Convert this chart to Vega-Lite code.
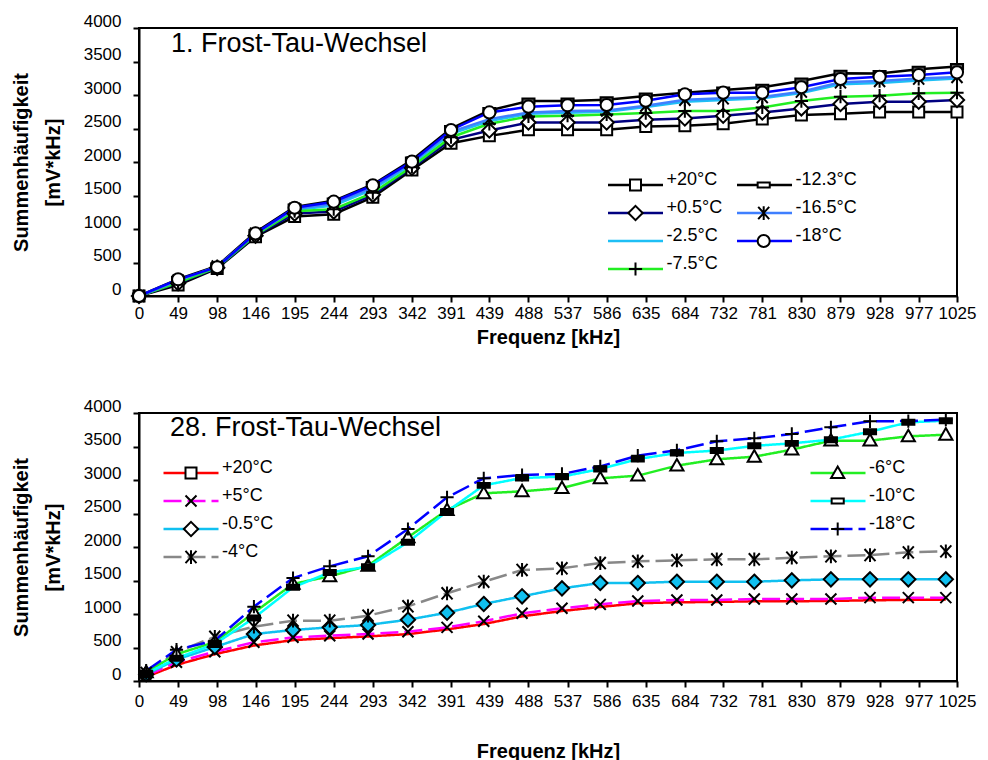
{
  "$schema": "https://vega.github.io/schema/vega-lite/v6.json",
  "padding": {"left": 10, "top": 11, "right": 5, "bottom": 0},
  "background": "white",
  "spacing": 48,
  "resolve": {"scale": {"color": "independent", "shape": "independent", "strokeDash": "independent", "x": "independent", "y": "independent"}, "legend": {"color": "independent", "shape": "independent", "strokeDash": "independent"}},
  "config": {
    "font": "Liberation Sans",
    "view": {"stroke": "black", "strokeWidth": 2},
    "axis": {
      "domainColor": "black", "domainWidth": 2, "tickColor": "black", "tickWidth": 2, "tickSize": 6,
      "labelColor": "black", "labelFont": "Liberation Sans", "labelFontSize": 17, "labelFlush": false, "labelOverlap": false,
      "grid": false, "titleFont": "Liberation Sans", "titleFontWeight": "bold", "titleFontSize": 20, "titleColor": "black"
    },
    "legend": {"labelFont": "Liberation Sans", "labelColor": "black", "labelFontSize": 18, "labelBaseline": "alphabetic", "padding": 0, "clipHeight": 26, "rowPadding": 1},
    "title": {"font": "Liberation Sans", "fontSize": 27, "fontWeight": "normal", "color": "black", "anchor": "start", "frame": "group", "baseline": "middle"}
  },
  "datasets": {
    "top": [
      {"f":0,"s":"+20°C","v":0},{"f":49,"s":"+20°C","v":165},{"f":98,"s":"+20°C","v":410},{"f":146,"s":"+20°C","v":885},{"f":195,"s":"+20°C","v":1185},{"f":244,"s":"+20°C","v":1220},{"f":293,"s":"+20°C","v":1475},{"f":342,"s":"+20°C","v":1880},{"f":391,"s":"+20°C","v":2280},{"f":439,"s":"+20°C","v":2390},{"f":488,"s":"+20°C","v":2480},{"f":537,"s":"+20°C","v":2480},{"f":586,"s":"+20°C","v":2480},{"f":635,"s":"+20°C","v":2530},{"f":684,"s":"+20°C","v":2540},{"f":732,"s":"+20°C","v":2570},{"f":781,"s":"+20°C","v":2640},{"f":830,"s":"+20°C","v":2700},{"f":879,"s":"+20°C","v":2720},{"f":928,"s":"+20°C","v":2745},{"f":977,"s":"+20°C","v":2745},{"f":1025,"s":"+20°C","v":2745},
      {"f":0,"s":"+0.5°C","v":0},{"f":49,"s":"+0.5°C","v":190},{"f":98,"s":"+0.5°C","v":420},{"f":146,"s":"+0.5°C","v":900},{"f":195,"s":"+0.5°C","v":1230},{"f":244,"s":"+0.5°C","v":1260},{"f":293,"s":"+0.5°C","v":1510},{"f":342,"s":"+0.5°C","v":1910},{"f":391,"s":"+0.5°C","v":2330},{"f":439,"s":"+0.5°C","v":2470},{"f":488,"s":"+0.5°C","v":2590},{"f":537,"s":"+0.5°C","v":2590},{"f":586,"s":"+0.5°C","v":2590},{"f":635,"s":"+0.5°C","v":2630},{"f":684,"s":"+0.5°C","v":2650},{"f":732,"s":"+0.5°C","v":2690},{"f":781,"s":"+0.5°C","v":2740},{"f":830,"s":"+0.5°C","v":2800},{"f":879,"s":"+0.5°C","v":2865},{"f":928,"s":"+0.5°C","v":2900},{"f":977,"s":"+0.5°C","v":2900},{"f":1025,"s":"+0.5°C","v":2925},
      {"f":0,"s":"-2.5°C","v":0},{"f":49,"s":"-2.5°C","v":215},{"f":98,"s":"-2.5°C","v":430},{"f":146,"s":"-2.5°C","v":920},{"f":195,"s":"-2.5°C","v":1285},{"f":244,"s":"-2.5°C","v":1350},{"f":293,"s":"-2.5°C","v":1590},{"f":342,"s":"-2.5°C","v":1965},{"f":391,"s":"-2.5°C","v":2420},{"f":439,"s":"-2.5°C","v":2610},{"f":488,"s":"-2.5°C","v":2720},{"f":537,"s":"-2.5°C","v":2735},{"f":586,"s":"-2.5°C","v":2750},{"f":635,"s":"-2.5°C","v":2820},{"f":684,"s":"-2.5°C","v":2900},{"f":732,"s":"-2.5°C","v":2925},{"f":781,"s":"-2.5°C","v":2950},{"f":830,"s":"-2.5°C","v":3030},{"f":879,"s":"-2.5°C","v":3160},{"f":928,"s":"-2.5°C","v":3180},{"f":977,"s":"-2.5°C","v":3215},{"f":1025,"s":"-2.5°C","v":3245},
      {"f":0,"s":"-7.5°C","v":0},{"f":49,"s":"-7.5°C","v":200},{"f":98,"s":"-7.5°C","v":425},{"f":146,"s":"-7.5°C","v":910},{"f":195,"s":"-7.5°C","v":1265},{"f":244,"s":"-7.5°C","v":1295},{"f":293,"s":"-7.5°C","v":1540},{"f":342,"s":"-7.5°C","v":1930},{"f":391,"s":"-7.5°C","v":2370},{"f":439,"s":"-7.5°C","v":2570},{"f":488,"s":"-7.5°C","v":2680},{"f":537,"s":"-7.5°C","v":2690},{"f":586,"s":"-7.5°C","v":2710},{"f":635,"s":"-7.5°C","v":2730},{"f":684,"s":"-7.5°C","v":2760},{"f":732,"s":"-7.5°C","v":2760},{"f":781,"s":"-7.5°C","v":2815},{"f":830,"s":"-7.5°C","v":2910},{"f":879,"s":"-7.5°C","v":2975},{"f":928,"s":"-7.5°C","v":2990},{"f":977,"s":"-7.5°C","v":3025},{"f":1025,"s":"-7.5°C","v":3035},
      {"f":0,"s":"-12.3°C","v":0},{"f":49,"s":"-12.3°C","v":250},{"f":98,"s":"-12.3°C","v":450},{"f":146,"s":"-12.3°C","v":950},{"f":195,"s":"-12.3°C","v":1330},{"f":244,"s":"-12.3°C","v":1420},{"f":293,"s":"-12.3°C","v":1665},{"f":342,"s":"-12.3°C","v":2030},{"f":391,"s":"-12.3°C","v":2500},{"f":439,"s":"-12.3°C","v":2770},{"f":488,"s":"-12.3°C","v":2910},{"f":537,"s":"-12.3°C","v":2910},{"f":586,"s":"-12.3°C","v":2930},{"f":635,"s":"-12.3°C","v":2985},{"f":684,"s":"-12.3°C","v":3035},{"f":732,"s":"-12.3°C","v":3075},{"f":781,"s":"-12.3°C","v":3115},{"f":830,"s":"-12.3°C","v":3210},{"f":879,"s":"-12.3°C","v":3325},{"f":928,"s":"-12.3°C","v":3320},{"f":977,"s":"-12.3°C","v":3385},{"f":1025,"s":"-12.3°C","v":3425},
      {"f":0,"s":"-16.5°C","v":0},{"f":49,"s":"-16.5°C","v":230},{"f":98,"s":"-16.5°C","v":440},{"f":146,"s":"-16.5°C","v":930},{"f":195,"s":"-16.5°C","v":1300},{"f":244,"s":"-16.5°C","v":1380},{"f":293,"s":"-16.5°C","v":1620},{"f":342,"s":"-16.5°C","v":1990},{"f":391,"s":"-16.5°C","v":2450},{"f":439,"s":"-16.5°C","v":2640},{"f":488,"s":"-16.5°C","v":2740},{"f":537,"s":"-16.5°C","v":2760},{"f":586,"s":"-16.5°C","v":2770},{"f":635,"s":"-16.5°C","v":2840},{"f":684,"s":"-16.5°C","v":2930},{"f":732,"s":"-16.5°C","v":2950},{"f":781,"s":"-16.5°C","v":2970},{"f":830,"s":"-16.5°C","v":3050},{"f":879,"s":"-16.5°C","v":3190},{"f":928,"s":"-16.5°C","v":3210},{"f":977,"s":"-16.5°C","v":3245},{"f":1025,"s":"-16.5°C","v":3270},
      {"f":0,"s":"-18°C","v":0},{"f":49,"s":"-18°C","v":249},{"f":98,"s":"-18°C","v":430},{"f":146,"s":"-18°C","v":935},{"f":195,"s":"-18°C","v":1318},{"f":244,"s":"-18°C","v":1408},{"f":293,"s":"-18°C","v":1652},{"f":342,"s":"-18°C","v":2005},{"f":391,"s":"-18°C","v":2478},{"f":439,"s":"-18°C","v":2740},{"f":488,"s":"-18°C","v":2826},{"f":537,"s":"-18°C","v":2846},{"f":586,"s":"-18°C","v":2851},{"f":635,"s":"-18°C","v":2915},{"f":684,"s":"-18°C","v":3010},{"f":732,"s":"-18°C","v":3035},{"f":781,"s":"-18°C","v":3035},{"f":830,"s":"-18°C","v":3115},{"f":879,"s":"-18°C","v":3239},{"f":928,"s":"-18°C","v":3273},{"f":977,"s":"-18°C","v":3298},{"f":1025,"s":"-18°C","v":3338}
    ],
    "bottom": [
      {"f":9,"s":"+20°C","v":60},{"f":47,"s":"+20°C","v":240},{"f":95,"s":"+20°C","v":400},{"f":144,"s":"+20°C","v":530},{"f":193,"s":"+20°C","v":610},{"f":239,"s":"+20°C","v":640},{"f":287,"s":"+20°C","v":665},{"f":337,"s":"+20°C","v":700},{"f":386,"s":"+20°C","v":770},{"f":432,"s":"+20°C","v":850},{"f":480,"s":"+20°C","v":965},{"f":530,"s":"+20°C","v":1045},{"f":578,"s":"+20°C","v":1105},{"f":625,"s":"+20°C","v":1160},{"f":674,"s":"+20°C","v":1175},{"f":724,"s":"+20°C","v":1180},{"f":771,"s":"+20°C","v":1190},{"f":818,"s":"+20°C","v":1190},{"f":867,"s":"+20°C","v":1195},{"f":916,"s":"+20°C","v":1205},{"f":964,"s":"+20°C","v":1210},{"f":1011,"s":"+20°C","v":1215},
      {"f":9,"s":"+5°C","v":80},{"f":47,"s":"+5°C","v":280},{"f":95,"s":"+5°C","v":437},{"f":144,"s":"+5°C","v":578},{"f":193,"s":"+5°C","v":652},{"f":239,"s":"+5°C","v":676},{"f":287,"s":"+5°C","v":701},{"f":337,"s":"+5°C","v":736},{"f":386,"s":"+5°C","v":801},{"f":432,"s":"+5°C","v":891},{"f":480,"s":"+5°C","v":1010},{"f":530,"s":"+5°C","v":1085},{"f":578,"s":"+5°C","v":1144},{"f":625,"s":"+5°C","v":1194},{"f":674,"s":"+5°C","v":1209},{"f":724,"s":"+5°C","v":1209},{"f":771,"s":"+5°C","v":1224},{"f":818,"s":"+5°C","v":1224},{"f":867,"s":"+5°C","v":1224},{"f":916,"s":"+5°C","v":1244},{"f":964,"s":"+5°C","v":1244},{"f":1011,"s":"+5°C","v":1244},
      {"f":9,"s":"-0.5°C","v":100},{"f":47,"s":"-0.5°C","v":320},{"f":95,"s":"-0.5°C","v":507},{"f":144,"s":"-0.5°C","v":701},{"f":193,"s":"-0.5°C","v":761},{"f":239,"s":"-0.5°C","v":801},{"f":287,"s":"-0.5°C","v":836},{"f":337,"s":"-0.5°C","v":915},{"f":386,"s":"-0.5°C","v":1019},{"f":432,"s":"-0.5°C","v":1150},{"f":480,"s":"-0.5°C","v":1264},{"f":530,"s":"-0.5°C","v":1383},{"f":578,"s":"-0.5°C","v":1463},{"f":625,"s":"-0.5°C","v":1463},{"f":674,"s":"-0.5°C","v":1482},{"f":724,"s":"-0.5°C","v":1482},{"f":771,"s":"-0.5°C","v":1482},{"f":818,"s":"-0.5°C","v":1502},{"f":867,"s":"-0.5°C","v":1517},{"f":916,"s":"-0.5°C","v":1517},{"f":964,"s":"-0.5°C","v":1517},{"f":1011,"s":"-0.5°C","v":1517},
      {"f":9,"s":"-4°C","v":120},{"f":47,"s":"-4°C","v":430},{"f":95,"s":"-4°C","v":660},{"f":144,"s":"-4°C","v":811},{"f":193,"s":"-4°C","v":900},{"f":239,"s":"-4°C","v":900},{"f":287,"s":"-4°C","v":975},{"f":337,"s":"-4°C","v":1115},{"f":386,"s":"-4°C","v":1309},{"f":432,"s":"-4°C","v":1482},{"f":480,"s":"-4°C","v":1657},{"f":530,"s":"-4°C","v":1682},{"f":578,"s":"-4°C","v":1761},{"f":625,"s":"-4°C","v":1786},{"f":674,"s":"-4°C","v":1801},{"f":724,"s":"-4°C","v":1816},{"f":771,"s":"-4°C","v":1816},{"f":818,"s":"-4°C","v":1841},{"f":867,"s":"-4°C","v":1861},{"f":916,"s":"-4°C","v":1880},{"f":964,"s":"-4°C","v":1920},{"f":1011,"s":"-4°C","v":1935},
      {"f":9,"s":"-6°C","v":130},{"f":47,"s":"-6°C","v":400},{"f":95,"s":"-6°C","v":580},{"f":144,"s":"-6°C","v":1020},{"f":193,"s":"-6°C","v":1450},{"f":239,"s":"-6°C","v":1562},{"f":287,"s":"-6°C","v":1721},{"f":337,"s":"-6°C","v":2145},{"f":386,"s":"-6°C","v":2552},{"f":432,"s":"-6°C","v":2801},{"f":480,"s":"-6°C","v":2831},{"f":530,"s":"-6°C","v":2880},{"f":578,"s":"-6°C","v":3025},{"f":625,"s":"-6°C","v":3065},{"f":674,"s":"-6°C","v":3214},{"f":724,"s":"-6°C","v":3309},{"f":771,"s":"-6°C","v":3348},{"f":818,"s":"-6°C","v":3453},{"f":867,"s":"-6°C","v":3587},{"f":916,"s":"-6°C","v":3587},{"f":964,"s":"-6°C","v":3652},{"f":1011,"s":"-6°C","v":3676},
      {"f":9,"s":"-10°C","v":110},{"f":47,"s":"-10°C","v":340},{"f":95,"s":"-10°C","v":552},{"f":144,"s":"-10°C","v":940},{"f":193,"s":"-10°C","v":1398},{"f":239,"s":"-10°C","v":1620},{"f":287,"s":"-10°C","v":1706},{"f":337,"s":"-10°C","v":2070},{"f":386,"s":"-10°C","v":2532},{"f":432,"s":"-10°C","v":2920},{"f":480,"s":"-10°C","v":3030},{"f":530,"s":"-10°C","v":3050},{"f":578,"s":"-10°C","v":3164},{"f":625,"s":"-10°C","v":3313},{"f":674,"s":"-10°C","v":3403},{"f":724,"s":"-10°C","v":3440},{"f":771,"s":"-10°C","v":3510},{"f":818,"s":"-10°C","v":3547},{"f":867,"s":"-10°C","v":3602},{"f":916,"s":"-10°C","v":3721},{"f":964,"s":"-10°C","v":3861},{"f":1011,"s":"-10°C","v":3885},
      {"f":9,"s":"-18°C","v":154},{"f":47,"s":"-18°C","v":467},{"f":95,"s":"-18°C","v":602},{"f":144,"s":"-18°C","v":1109},{"f":193,"s":"-18°C","v":1537},{"f":239,"s":"-18°C","v":1711},{"f":287,"s":"-18°C","v":1861},{"f":337,"s":"-18°C","v":2269},{"f":386,"s":"-18°C","v":2741},{"f":432,"s":"-18°C","v":3025},{"f":480,"s":"-18°C","v":3075},{"f":530,"s":"-18°C","v":3090},{"f":578,"s":"-18°C","v":3204},{"f":625,"s":"-18°C","v":3363},{"f":674,"s":"-18°C","v":3443},{"f":724,"s":"-18°C","v":3577},{"f":771,"s":"-18°C","v":3622},{"f":818,"s":"-18°C","v":3687},{"f":867,"s":"-18°C","v":3786},{"f":916,"s":"-18°C","v":3876},{"f":964,"s":"-18°C","v":3880},{"f":1011,"s":"-18°C","v":3900}
    ]
  },
  "vconcat": [
    {
      "width": 818, "height": 268,
      "title": {"text": "1. Frost-Tau-Wechsel", "offset": -46, "dx": 32},
      "data": {"name": "top"},
      "encoding": {
        "x": {"field": "f", "type": "quantitative", "scale": {"domain": [0, 1025], "nice": false, "zero": false},
          "axis": {"values": [0,49,98,146,195,244,293,342,391,439,488,537,586,635,684,732,781,830,879,928,977,1025], "format": "d", "title": "Frequenz [kHz]", "titlePadding": 6, "labelPadding": 3}},
        "y": {"field": "v", "type": "quantitative", "scale": {"domain": [0, 4000], "nice": false},
          "axis": {"values": [0,500,1000,1500,2000,2500,3000,3500,4000], "format": "d", "title": ["Summenhäufigkeit", "[mV*kHz]"], "titleLineHeight": 32, "titlePadding": 20, "labelPadding": 12, "labelOffset": -7}}
      },
      "layer": [
        {
          "mark": {"type": "line", "strokeWidth": 2.5},
          "encoding": {
            "color": {"field": "s", "type": "nominal",
              "scale": {"domain": ["+20°C","+0.5°C","-2.5°C","-7.5°C","-12.3°C","-16.5°C","-18°C"], "range": ["#000000","#000080","#1EBFF5","#22EE22","#000000","#3F7FFF","#0000FF"]},
              "legend": {"title": null, "orient": "none", "legendX": 466, "legendY": 144, "columns": 2, "symbolType": "M-1.09,0H8.91", "symbolSize": 121, "symbolStrokeWidth": 2.5, "labelOffset": 43.5, "columnPadding": 11}}
          }
        },
        {
          "mark": {"type": "point", "size": 121, "strokeWidth": 2, "opacity": 1},
          "encoding": {
            "shape": {"field": "s", "type": "nominal", "sort": ["+20°C","+0.5°C","-2.5°C","-7.5°C","-12.3°C","-16.5°C","-18°C"],
              "scale": {"range": ["M-1,-1H1V1H-1Z", "M0,-1.3L1.3,0L0,1.3L-1.3,0Z", "M0,0", "M-1.2,0H1.2M0,-1.2V1.2", "M-1.1,-0.45H1.1V0.45H-1.1Z", "M-1,-1.1L1,1.1M-1,1.1L1,-1.1M0,-1.25V1.25", "M-1.1,0A1.1,1.1 0 1,0 1.1,0A1.1,1.1 0 1,0 -1.1,0Z"]},
              "legend": {"title": null, "orient": "none", "legendX": 466, "legendY": 144, "columns": 2, "symbolSize": 121, "symbolStrokeWidth": 2, "symbolOffset": 21.5, "labelExpr": "''", "labelOpacity": 0, "labelOffset": 43.5, "columnPadding": 45.2,
                "encode": {"symbols": {"update": {"stroke": {"value": "black"}, "fill": {"signal": "datum.value === '-12.3°C' ? '#555555' : 'white'"}, "opacity": {"value": 1}}}}}},
            "stroke": {"value": "black"},
            "fill": {"condition": {"test": "datum.s === '-12.3°C'", "value": "#555555"}, "value": "white"}
          }
        }
      ]
    },
    {
      "width": 818, "height": 268,
      "title": {"text": "28. Frost-Tau-Wechsel", "offset": -45, "dx": 31},
      "data": {"name": "bottom"},
      "encoding": {
        "x": {"field": "f", "type": "quantitative", "scale": {"domain": [0, 1025], "nice": false, "zero": false},
          "axis": {"values": [0,49,98,146,195,244,293,342,391,439,488,537,586,635,684,732,781,830,879,928,977,1025], "format": "d", "title": "Frequenz [kHz]", "titlePadding": 32, "labelPadding": 6}},
        "y": {"field": "v", "type": "quantitative", "scale": {"domain": [0, 4000], "nice": false},
          "axis": {"values": [0,500,1000,1500,2000,2500,3000,3500,4000], "format": "d", "title": ["Summenhäufigkeit", "[mV*kHz]"], "titleLineHeight": 32, "titlePadding": 20, "labelPadding": 12, "labelOffset": -7}}
      },
      "layer": [
        {
          "mark": {"type": "line", "strokeWidth": 2.5},
          "encoding": {
            "color": {"field": "s", "type": "nominal",
              "scale": {"domain": ["+20°C","+5°C","-0.5°C","-4°C","-6°C","-10°C","-18°C"], "range": ["#FF0000","#FF00FF","#10C0F0","#888888","#22EE22","#00FFFF","#0000FF"]},
              "legend": {"title": null, "orient": "none", "legendX": 21.5, "legendY": 47, "columns": 2, "symbolType": "M-1.09,0H8.91", "symbolSize": 121, "symbolStrokeWidth": 2.5, "labelOffset": 43.5, "columnPadding": 534}},
            "strokeDash": {"field": "s", "type": "nominal",
              "scale": {"domain": ["+20°C","+5°C","-0.5°C","-4°C","-6°C","-10°C","-18°C"], "range": [[1,0],[18,6],[1,0],[18,6],[1,0],[1,0],[18,6]]},
              "legend": {"title": null, "orient": "none", "legendX": 21.5, "legendY": 47, "columns": 2, "symbolType": "M-1.09,0H8.91", "symbolSize": 121, "symbolStrokeWidth": 2.5, "labelOffset": 43.5, "columnPadding": 534}}
          }
        },
        {
          "mark": {"type": "point", "size": 121, "strokeWidth": 2, "opacity": 1},
          "encoding": {
            "shape": {"field": "s", "type": "nominal", "sort": ["+20°C","+5°C","-0.5°C","-4°C","-6°C","-10°C","-18°C"],
              "scale": {"range": ["M-1,-1H1V1H-1Z", "M-1,-1L1,1M-1,1L1,-1", "M0,-1.3L1.3,0L0,1.3L-1.3,0Z", "M-1,-1.1L1,1.1M-1,1.1L1,-1.1M0,-1.25V1.25", "M0,-1.2L1.2,0.9H-1.2Z", "M-1.1,-0.45H1.1V0.45H-1.1Z", "M-1.2,0H1.2M0,-1.2V1.2"]},
              "legend": {"title": null, "orient": "none", "legendX": 21.5, "legendY": 47, "columns": 2, "symbolSize": 121, "symbolStrokeWidth": 2, "symbolOffset": 21.5, "labelExpr": "''", "labelOpacity": 0, "labelOffset": 43.5, "columnPadding": 563.7,
                "encode": {"symbols": {"update": {"stroke": {"value": "black"}, "fill": {"signal": "datum.value === '-10°C' ? 'black' : 'white'"}, "opacity": {"value": 1}}}}}},
            "stroke": {"condition": {"test": "datum.s === '+20°C'", "value": "transparent"}, "value": "black"},
            "fill": {"condition": [{"test": "datum.s === '+20°C'", "value": "transparent"}, {"test": "datum.s === '-10°C'", "value": "black"}, {"test": "datum.s === '-0.5°C'", "value": "#10C0F0"}], "value": "white"}
          }
        }
      ]
    }
  ]
}
